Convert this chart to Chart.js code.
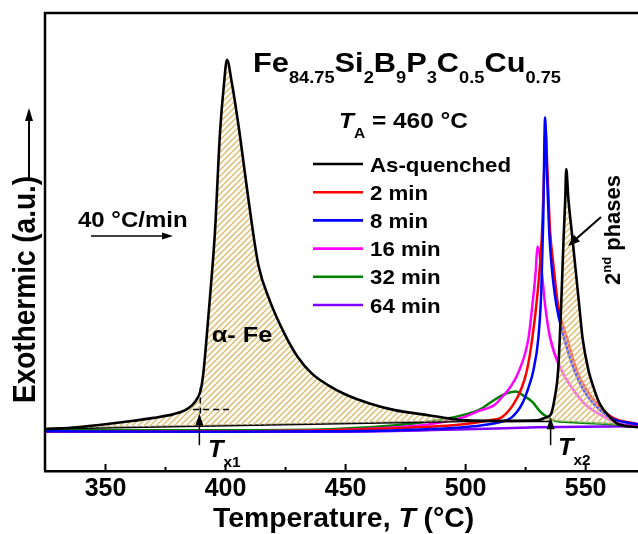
<!DOCTYPE html>
<html>
<head>
<meta charset="utf-8">
<script src="https://cdn.jsdelivr.net/npm/chart.js@4.4.1/dist/chart.umd.min.js"></script>
<style>
	html, body { margin: 0; padding: 0; background: #fff; overflow: hidden; }
	canvas { display: block; }
</style>
</head>
<body>
<canvas id="dscChart" width="638" height="534"></canvas>
<script>
// temperature (C) and signal (arbitrary units)
var asQuenchedT = [325, 338, 350, 360, 370, 378, 383, 386, 388, 389.5, 390.3, 391, 392.8, 394.5, 395.6, 397.7, 399.4, 400.6, 402.6, 405.8, 409.5, 413.7, 418.5, 424.8, 430, 436, 443, 450, 460, 471, 482, 493, 500, 515, 530, 533.5, 535.5, 537.2, 538.5, 539.8, 540.8, 541.5, 541.9, 542.8, 544.5, 547.3, 548.7, 551.2, 553.3, 556, 560.2, 563.7, 572];
var asQuenchedY = [42, 44, 47, 50, 53.5, 57, 61, 66, 72, 80, 90, 104, 154, 204, 241, 341, 391, 414, 391, 341, 274, 207, 171, 137, 115, 98, 86, 77, 68, 61, 57, 53, 51, 50.5, 51, 54, 57, 75, 100, 167, 234, 274, 304, 274, 234, 167, 134, 101, 84, 67, 54, 47, 44];

var baselineT = [325, 500, 536, 572];
var baselineY = [42.5, 50, 50, 45];

var min2T = [325, 400, 443.5, 471, 499, 510, 515, 519.9, 523.4, 525.5, 527.8, 530, 531.7, 532.7, 533.3, 534, 535.2, 536.6, 538.5, 542.2, 546.3, 549.8, 555, 561, 572];
var min2Y = [40, 40, 41, 43, 47, 51, 54, 67, 84, 101, 134, 180, 234, 300, 345, 307, 241, 207, 167, 134, 101, 84, 67, 54, 47];

var min8T = [325, 400, 443.5, 471, 499, 510, 514, 519.2, 523.4, 526.2, 528.2, 530.3, 531.5, 532.3, 533.1, 533.8, 534.8, 535.8, 537.8, 541, 545.3, 548.5, 553.5, 560, 563, 572];
var min8Y = [40, 39.5, 40, 41, 44, 47, 49, 54, 67, 84, 101, 134, 180, 250, 356, 307, 241, 207, 167, 134, 101, 84, 67, 54, 51, 47];

var min16T = [325, 400, 443.5, 471, 485, 499, 505, 512.3, 515, 518.5, 522.3, 526.2, 527.8, 529.2, 529.9, 531.7, 533.1, 535.2, 540, 544.2, 549.8, 558.1, 564.4, 572];
var min16Y = [40, 40, 41, 44, 47, 54, 60, 67, 74, 84, 101, 134, 167, 201, 226, 201, 167, 134, 101, 84, 67, 54, 47, 45];

var min32T = [325, 400, 443.5, 471, 490.6, 500, 506, 511.6, 516, 521, 524, 527.6, 531, 532.4, 536.6, 545, 561.5, 572];
var min32Y = [41, 41, 42, 46, 52, 57, 62, 71, 77, 80, 76, 70, 60, 57, 51, 49, 47, 45];

var min64T = [325, 400, 450, 500, 530, 572];
var min64Y = [39.5, 39.5, 39.5, 42, 44, 45];

var seriesLabels = ['As-quenched', '2 min', '8 min', '16 min', '32 min', '64 min'];
var seriesColors = ['#000000', '#ff0000', '#0000ff', '#ff00ff', '#008000', '#8000ff'];

var xMajorTicks = [350, 400, 450, 500, 550];
var xMinorTicks = [375, 425, 475, 525];

var FONT = '"Liberation Sans", Arial, sans-serif';

function pts(xs, ys) {
	return xs.map(function (x, i) { return { x: x, y: ys[i] }; });
}

function makeHatch() {
	var c = document.createElement('canvas');
	c.width = 6;
	c.height = 6;
	var g = c.getContext('2d');
	g.fillStyle = 'rgba(252, 247, 232, 0.4)';
	g.fillRect(0, 0, 6, 6);
	g.strokeStyle = '#dbbb72';
	g.lineWidth = 1.35;
	g.beginPath();
	g.moveTo(-1, 7); g.lineTo(7, -1);
	g.moveTo(-1, 1); g.lineTo(1, -1);
	g.moveTo(5, 7); g.lineTo(7, 5);
	g.stroke();
	return g.createPattern(c, 'repeat');
}

// draws a run of [text, font, dy] pieces, stretched a little sideways like the original figure
function drawRuns(ctx, runs, x, y, sx) {
	var cx = x;
	runs.forEach(function (r) {
		ctx.save();
		ctx.font = r[1];
		ctx.translate(cx, y + (r[2] || 0));
		ctx.scale(sx, 1);
		ctx.fillText(r[0], 0, 0);
		cx += ctx.measureText(r[0]).width * sx;
		ctx.restore();
	});
	return cx;
}

function arrowHead(ctx, x, y, angle, len, half) {
	ctx.save();
	ctx.translate(x, y);
	ctx.rotate(angle);
	ctx.beginPath();
	ctx.moveTo(0, 0);
	ctx.lineTo(-len, -half);
	ctx.lineTo(-len, half);
	ctx.closePath();
	ctx.fill();
	ctx.restore();
}

var annotations = {
	id: 'annotations',
	afterDraw: function (chart) {
		var ctx = chart.ctx;
		var area = chart.chartArea;
		var xs = chart.scales.x;
		var ys = chart.scales.y;
		var bold = function (s) { return 'bold ' + s + 'px ' + FONT; };
		var boldIt = function (s) { return 'italic bold ' + s + 'px ' + FONT; };

		ctx.save();
		ctx.fillStyle = '#000';
		ctx.strokeStyle = '#000';
		ctx.textBaseline = 'alphabetic';
		ctx.textAlign = 'left';

		// frame: left and top
		ctx.lineWidth = 2.5;
		ctx.beginPath();
		ctx.moveTo(area.left, area.bottom);
		ctx.lineTo(area.left, area.top);
		ctx.lineTo(area.right + 2, area.top);
		ctx.stroke();

		// inward ticks on the temperature axis
		ctx.lineWidth = 2;
		ctx.beginPath();
		xMajorTicks.forEach(function (v) {
			var px = xs.getPixelForValue(v);
			ctx.moveTo(px, area.bottom);
			ctx.lineTo(px, area.bottom - 7);
		});
		xMinorTicks.forEach(function (v) {
			var px = xs.getPixelForValue(v);
			ctx.moveTo(px, area.bottom);
			ctx.lineTo(px, area.bottom - 4);
		});
		ctx.stroke();

		// axis titles
		drawRuns(ctx, [['Temperature, ', bold(27)], ['T', boldIt(27)], [' (\u00b0C)', bold(27)]], 213, 527, 1.05);

		ctx.save();
		ctx.translate(35, 403);
		ctx.rotate(-Math.PI / 2);
		ctx.scale(1, 1.12);
		ctx.font = bold(28);
		ctx.fillText('Exothermic (a.u.)', 0, 0);
		ctx.restore();
		ctx.lineWidth = 2;
		ctx.beginPath();
		ctx.moveTo(29, 180);
		ctx.lineTo(29, 118);
		ctx.stroke();
		arrowHead(ctx, 29, 108, -Math.PI / 2, 13, 4);

		// alloy and annealing temperature
		var sub = bold(16);
		var big = bold(27);
		drawRuns(ctx, [
			['Fe', big], ['84.75', sub, 10.5], ['Si', big], ['2', sub, 10.5], ['B', big], ['9', sub, 10.5],
			['P', big], ['3', sub, 10.5], ['C', big], ['0.5', sub, 10.5], ['Cu', big], ['0.75', sub, 10.5]
		], 253, 72, 1.14);
		drawRuns(ctx, [['T', boldIt(22)], ['A', bold(14), 10], [' = 460 \u00b0C', bold(22)]], 339, 128.3, 1.11);

		// legend
		chart.data.datasets.forEach(function (ds) {
			if (!ds.inLegend) {
				return;
			}
			var row = seriesLabels.indexOf(ds.label);
			var cy = 164 + row * 28.2;
			ctx.strokeStyle = ds.borderColor;
			ctx.lineWidth = 2.6;
			ctx.beginPath();
			ctx.moveTo(313, cy);
			ctx.lineTo(363, cy);
			ctx.stroke();
			drawRuns(ctx, [[ds.label, bold(21)]], 370, cy + 7.5, 1.06);
		});
		ctx.strokeStyle = '#000';

		// heating rate
		drawRuns(ctx, [['40 \u00b0C/min', bold(22)]], 78, 226.7, 1.09);
		ctx.lineWidth = 1.5;
		ctx.beginPath();
		ctx.moveTo(91, 236);
		ctx.lineTo(164, 236);
		ctx.stroke();
		arrowHead(ctx, 173, 236, 0, 11, 3.5);

		// phase labels
		drawRuns(ctx, [['\u03b1- Fe', bold(22)]], 211.7, 341.7, 1.15);

		ctx.save();
		ctx.translate(620, 285);
		ctx.rotate(-Math.PI / 2);
		var cx = 0;
		[['2', bold(22), 0], ['nd', bold(13), -9], [' phases', bold(22), 0]].forEach(function (r) {
			ctx.font = r[1];
			ctx.fillText(r[0], cx, r[2]);
			cx += ctx.measureText(r[0]).width;
		});
		ctx.restore();
		ctx.lineWidth = 2;
		ctx.beginPath();
		ctx.moveTo(601, 217);
		ctx.lineTo(576, 239);
		ctx.stroke();
		arrowHead(ctx, 568, 246, Math.atan2(29, -33), 12, 4.5);

		// onset markers
		[[389.1, 58, 'x1', 208, 457], [535.4, 54, 'x2', 558, 455]].forEach(function (m) {
			var px = xs.getPixelForValue(m[0]);
			var top = ys.getPixelForValue(m[1]);
			ctx.lineWidth = 1.5;
			ctx.beginPath();
			ctx.moveTo(px, top + 8);
			ctx.lineTo(px, ys.getPixelForValue(26));
			ctx.stroke();
			arrowHead(ctx, px, top, -Math.PI / 2, 12, 4);
			drawRuns(ctx, [['T', boldIt(23)], [m[2], bold(14), 10]], m[3], m[4], 1.1);
		});

		// onset tangent construction for the first peak
		ctx.setLineDash([6, 4]);
		ctx.lineWidth = 1.5;
		ctx.beginPath();
		var tx = xs.getPixelForValue(389.5);
		ctx.moveTo(tx, ys.getPixelForValue(84));
		ctx.lineTo(tx, ys.getPixelForValue(58));
		ctx.moveTo(xs.getPixelForValue(386.5), ys.getPixelForValue(62));
		ctx.lineTo(xs.getPixelForValue(402.7), ys.getPixelForValue(62));
		ctx.stroke();
		ctx.setLineDash([]);

		ctx.restore();
	}
};

var hatch = makeHatch();

function lineSet(label, color, xs, ys, order, width) {
	return {
		label: label,
		data: pts(xs, ys),
		borderColor: color,
		borderWidth: width,
		pointRadius: 0,
		cubicInterpolationMode: 'monotone',
		borderJoinStyle: 'round',
		fill: false,
		order: order,
		inLegend: true
	};
}

var black = lineSet(seriesLabels[0], seriesColors[0], asQuenchedT, asQuenchedY, 0, 2.6);
black.fill = { target: 1, above: hatch, below: 'rgba(0,0,0,0)' };

var baseline = {
	label: 'baseline',
	data: pts(baselineT, baselineY),
	borderColor: '#000',
	borderWidth: 2,
	pointRadius: 0,
	tension: 0,
	fill: false,
	order: 1,
	inLegend: false,
	segment: {
		borderColor: function (c) { return c.p0.parsed.x >= 536 ? 'rgba(0,0,0,0)' : '#000'; }
	}
};

new Chart(document.getElementById('dscChart'), {
	type: 'line',
	data: {
		datasets: [
			black,
			baseline,
			lineSet(seriesLabels[1], seriesColors[1], min2T, min2Y, 3, 2.5),
			lineSet(seriesLabels[2], seriesColors[2], min8T, min8Y, 2, 2.5),
			lineSet(seriesLabels[3], seriesColors[3], min16T, min16Y, 4, 2.5),
			lineSet(seriesLabels[4], seriesColors[4], min32T, min32Y, 5, 2.5),
			lineSet(seriesLabels[5], seriesColors[5], min64T, min64Y, 6, 2.5)
		]
	},
	options: {
		responsive: false,
		devicePixelRatio: 1,
		animation: false,
		layout: { padding: { left: 45, top: 13, right: 0, bottom: 27 } },
		plugins: {
			legend: { display: false },
			tooltip: { enabled: false },
			filler: { propagate: false }
		},
		scales: {
			x: {
				type: 'linear',
				min: 324.8,
				max: 571.8,
				grid: { display: false, drawTicks: false },
				border: { display: true, color: '#000', width: 2.5 },
				afterBuildTicks: function (axis) {
					axis.ticks = xMajorTicks.map(function (v) { return { value: v }; });
				},
				ticks: {
					padding: 3,
					maxRotation: 0,
					autoSkip: false,
					color: '#000',
					font: { family: FONT, size: 25, weight: 'bold' }
				}
			},
			y: {
				display: false,
				min: 0,
				max: 461
			}
		}
	},
	plugins: [annotations]
});
</script>
</body>
</html>
